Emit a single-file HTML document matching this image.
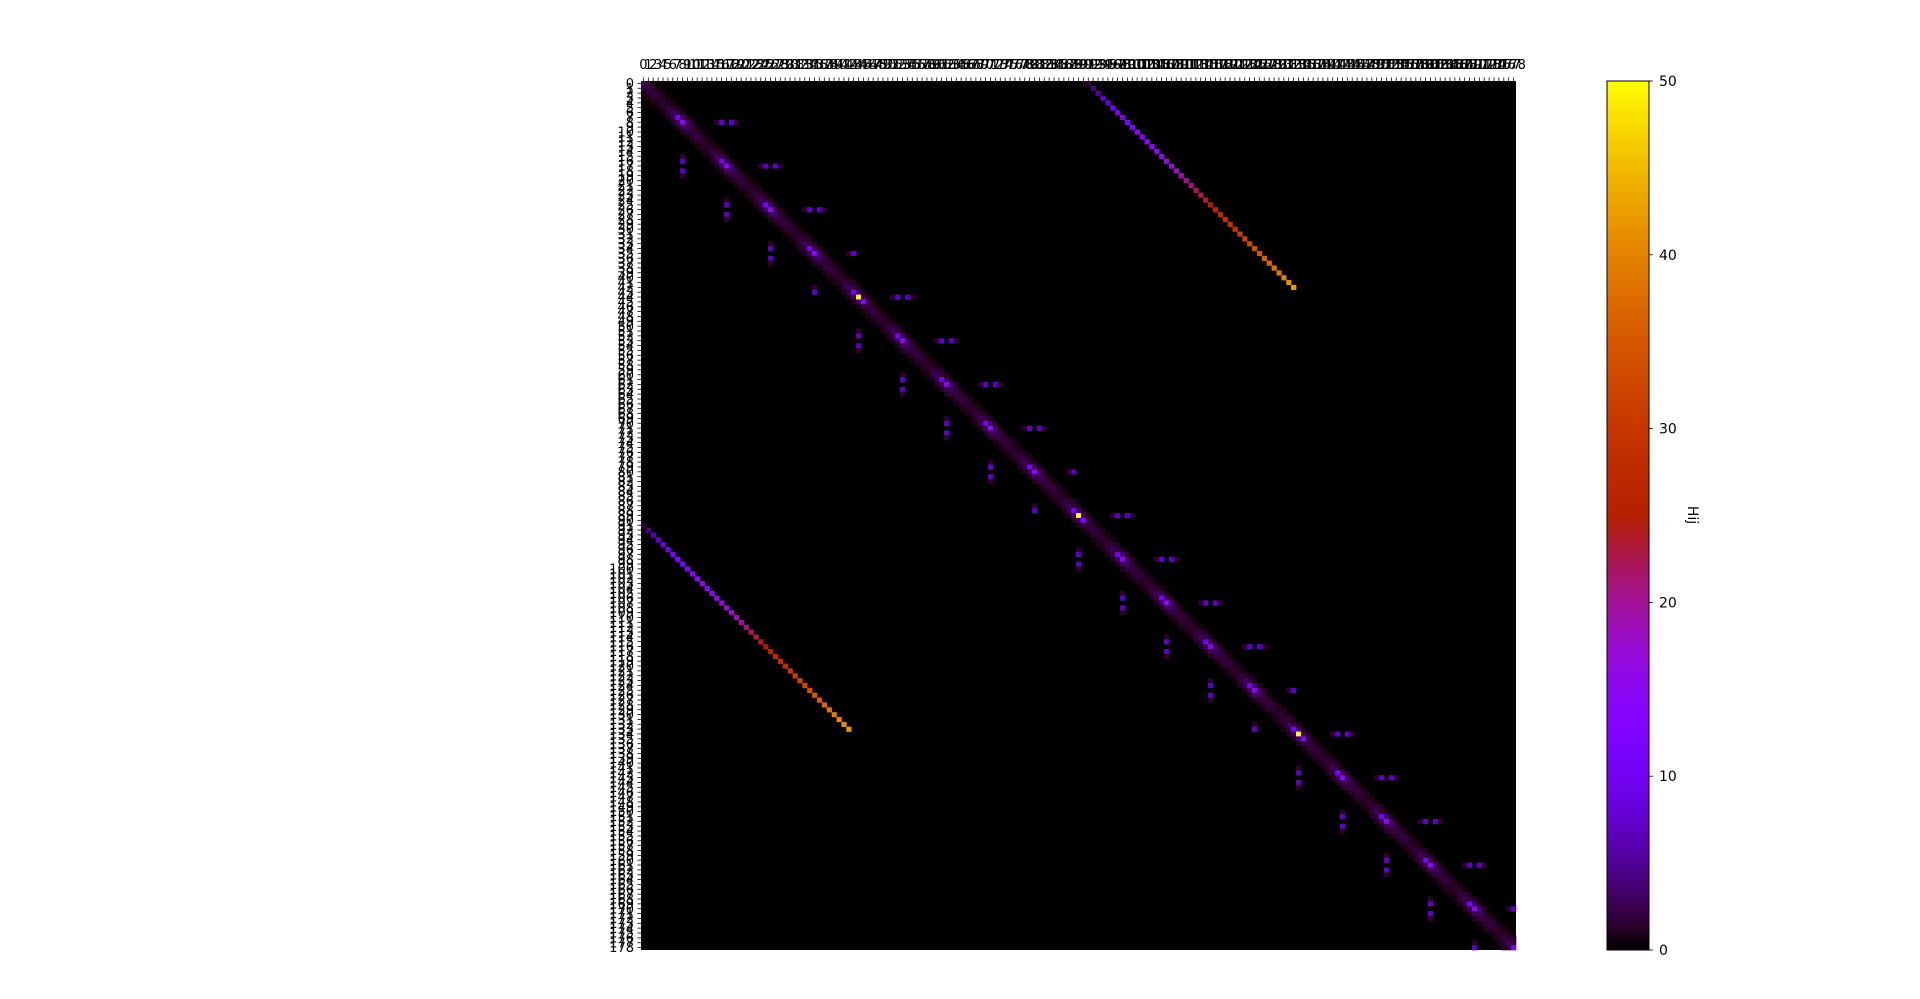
<!DOCTYPE html>
<html><head><meta charset="utf-8">
<style>
html,body{margin:0;padding:0;background:#fff;}
svg{display:block;font-family:"DejaVu Sans","Liberation Sans",sans-serif;}
</style></head>
<body>
<svg id="fig" width="1920" height="999" viewBox="0 0 1920 999" xmlns="http://www.w3.org/2000/svg">
<defs><linearGradient id="cbgrad" x1="0" y1="1" x2="0" y2="0"></linearGradient></defs>
<g id="heat"></g>
<g id="xt"></g>
<g id="yt"></g>
<g id="cb"></g>
</svg>
<script>
// ---- data ----
const N = 179;
const vmin = 0, vmax = 50;
const diagPattern = [11,15,3,2,2,1.5,1.5,2,3];      // H[i][i], cycle starting at row 7
const super1Pattern = [3,3,2,1.5,1.5,1,1,1.5,2];     // H[i][i+1]
const super2Pattern = [1,1,0.5,0.5,0.5,0.5,0.5,1,1]; // H[i][i+2]
const yellowIdx = [44,89,134];
const yellowVal = [50,50,50];
const afterIdx = [45,90,135];
const afterVal = [14,14,14];
const couplingRows = [8,17,26,35,44,53,62,71,80,89,98,107,116,125,134,143,152,161,170];
const shortRows = [35,80,125,170];
const couplingOffsets = [7,8,10,11];
const couplingVals = [1.5,7,7,1.5];
const lineStartCol = 91;
const lineVals = [2,4,6,8,9,10,11,12,12,13,14,14,15,15,16,16,17,17,18,19,20,21,22,23,24,25,26,27,28,29,30,31,32,33,34,35,36,37,38,39,40,41,42];
const cbTicks = [0,10,20,30,40,50];

// ---- geometry ----
const X0=641, X1=1516, Y0=81, Y1=950;
const cw=(X1-X0)/N, ch=(Y1-Y0)/N;
const xs = c => X0 + c*cw;
const ys = r => Y0 + r*ch;
const CBX=1607, CBW=42;
const cby = v => Y1 - (v-vmin)/(vmax-vmin)*(Y1-Y0);
const NS="http://www.w3.org/2000/svg";
function gnu(t){t=Math.max(0,Math.min(1,t));
  const r=Math.sqrt(t), g=t*t*t, b=Math.max(0,Math.sin(2*Math.PI*t));
  return `rgb(${Math.round(r*255)},${Math.round(g*255)},${Math.round(b*255)})`;}
function mk(tag,attrs,parent){const e=document.createElementNS(NS,tag);for(const k in attrs)e.setAttribute(k,attrs[k]);parent.appendChild(e);return e;}

// ---- build matrix (sparse) ----
const M = new Map();
function put(r,c,v){ if(r<0||c<0||r>=N||c>=N) return; M.set(r*N+c, v); M.set(c*N+r, v); }
for(let i=0;i<N;i++){
  const p = (((i-7)%9)+9)%9;
  put(i,i,diagPattern[p]);
  put(i,i+1,super1Pattern[p]);
  put(i,i+2,super2Pattern[p]);
}
yellowIdx.forEach((k,j)=>put(k,k,yellowVal[j]));
afterIdx.forEach((k,j)=>put(k,k,afterVal[j]));
couplingRows.forEach(b=>{
  const n = shortRows.includes(b) ? 2 : 4;
  for(let j=0;j<n;j++) put(b,b+couplingOffsets[j],couplingVals[j]);
});
lineVals.forEach((v,i)=>put(i,lineStartCol+i,v));

// ---- draw heatmap ----
const heat=document.getElementById('heat');
const bg=mk('rect',{x:X0,y:Y0,width:X1-X0,height:Y1-Y0,fill:gnu(0)},heat);


M.forEach((v,key)=>{
  const r=Math.floor(key/N), c=key%N;
  const e=mk('rect',{x:xs(c).toFixed(2),y:ys(r).toFixed(2),width:(cw+0.3).toFixed(2),height:(ch+0.3).toFixed(2),fill:gnu((v-vmin)/(vmax-vmin))},heat);
  
  
});

// ---- ticks ----
const xt=document.getElementById('xt'), yt=document.getElementById('yt');
for(let i=0;i<N;i++){
  const cx=xs(i+0.5), cy=ys(i+0.5);
  mk('line',{x1:cx,y1:Y0,x2:cx,y2:Y0-3.5,stroke:'#000','stroke-width':0.8},xt);
  const tx=mk('text',{x:cx,y:69,'font-size':13,'text-anchor':'middle',fill:'#000'},xt);
  tx.textContent=i;
  
  
  mk('line',{x1:X0,y1:cy,x2:X0-3.5,y2:cy,stroke:'#000','stroke-width':0.8},yt);
  const ty=mk('text',{x:634,y:cy+4.6,'font-size':13,'text-anchor':'end',fill:'#000'},yt);
  ty.textContent=i;
  
  
}

// ---- colorbar ----
const grad=document.getElementById('cbgrad');
for(let k=0;k<=40;k++){mk('stop',{offset:(k/40),'stop-color':gnu(k/40)},grad);}
const cb=document.getElementById('cb');
const cbr=mk('rect',{x:CBX,y:Y0,width:CBW,height:Y1-Y0,fill:'url(#cbgrad)',stroke:'#000','stroke-width':1},cb);


cbTicks.forEach(v=>{
  const y=cby(v);
  mk('line',{x1:CBX+CBW,y1:y,x2:CBX+CBW+4,y2:y,stroke:'#000','stroke-width':0.8},cb);
  const t=mk('text',{x:CBX+CBW+10,y:y+5,'font-size':14,fill:'#000'},cb);
  t.textContent=v;
  
  
});
const lab=mk('text',{x:1688,y:515,'font-size':14,'text-anchor':'middle',fill:'#000',transform:'rotate(90 1688 515)'},cb);
lab.textContent='Hij';


</script>
</body></html>
